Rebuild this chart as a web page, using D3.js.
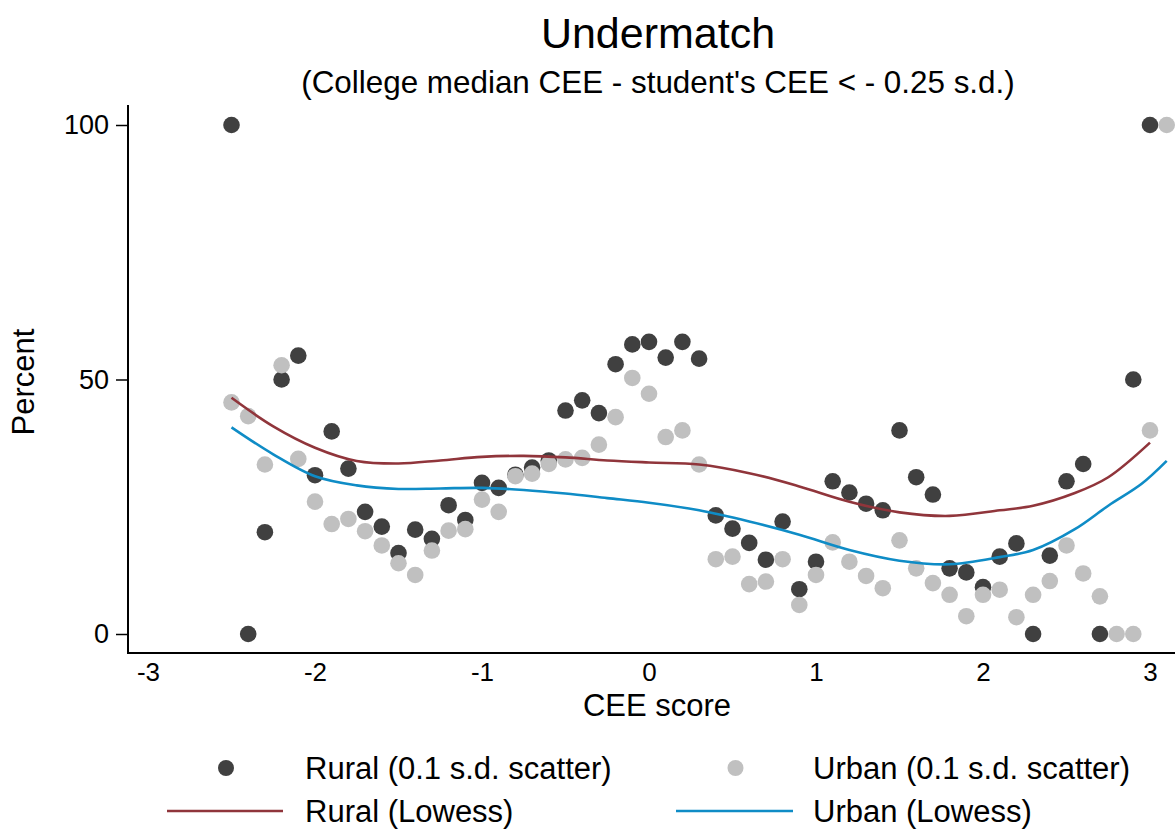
<!DOCTYPE html>
<html>
<head>
<meta charset="utf-8">
<script src="https://cdn.jsdelivr.net/npm/d3@7"></script>
<style>
  html, body { margin: 0; padding: 0; background: #fff; }
  svg { display: block; }
  text { font-family: "Liberation Sans", Arial, Helvetica, sans-serif; fill: #000; }
</style>
</head>
<body>
<svg id="chart" width="1175" height="829"></svg>
<script>
// CEE score bins (0.1 s.d. wide)
const scoreBins = [-2.5,-2.4,-2.3,-2.2,-2.1,-2.0,-1.9,-1.8,-1.7,-1.6,-1.5,-1.4,-1.3,-1.2,-1.1,-1.0,-0.9,-0.8,-0.7,-0.6,-0.5,-0.4,-0.3,-0.2,-0.1,0.0,0.1,0.2,0.3,0.4,0.5,0.6,0.7,0.8,0.9,1.0,1.1,1.2,1.3,1.4,1.5,1.6,1.7,1.8,1.9,2.0,2.1,2.2,2.3,2.4,2.5,2.6,2.7,2.8,2.9,3.0,3.1];

// Percent undermatched in each bin
const ruralPct = [100,0,20.0,50.0,54.7,31.2,39.8,32.5,24.0,21.1,15.9,20.5,18.7,25.3,22.4,29.7,28.7,31.3,32.7,34.1,43.9,45.9,43.4,53.0,56.9,57.4,54.3,57.4,54.1,23.3,20.7,17.9,14.6,22.1,8.8,14.2,30.0,27.8,25.6,24.3,40.0,30.8,27.4,12.9,12.1,9.2,15.2,17.8,0,15.4,30.0,33.4,0,null,50,100,null];
const urbanPct = [45.5,42.8,33.3,52.8,34.4,26.0,21.6,22.6,20.2,17.4,13.9,11.6,16.4,20.3,20.6,26.4,24.0,31.0,31.5,33.4,34.3,34.6,37.2,42.6,50.3,47.2,38.7,40.0,33.3,14.7,15.2,9.8,10.3,14.7,5.7,11.6,18.0,14.2,11.4,9.0,18.4,12.9,10.0,7.7,3.5,7.7,8.7,3.3,7.7,10.4,17.4,11.9,7.4,0,0,40,100];

// Lowess smooths
const ruralLowessX = [-2.5,-2.25,-2.0,-1.75,-1.5,-1.25,-1.0,-0.75,-0.5,-0.25,0,0.3,0.6,0.9,1.2,1.5,1.8,2.1,2.3,2.55,2.75,3.0];
const ruralLowessY = [46.4,40.8,36.6,34.0,33.5,34.1,34.8,35.0,34.7,34.1,33.7,33.3,31.6,29.0,26.0,23.9,23.2,24.3,25.2,27.7,30.8,37.6];
const urbanLowessX = [-2.5,-2.25,-2.0,-1.75,-1.5,-1.25,-1.0,-0.75,-0.5,-0.25,0,0.3,0.6,0.9,1.2,1.5,1.8,2.1,2.3,2.55,2.75,2.95,3.1];
const urbanLowessY = [40.6,35.3,31.0,29.2,28.5,28.6,28.7,28.3,27.6,26.7,25.8,24.3,22.1,19.5,16.5,14.4,13.7,15.1,16.5,20.6,25.2,29.5,34.0];

const xTicks = [-3,-2,-1,0,1,2,3];
const yTicks = [0,50,100];

const colors = { rural: "#404040", urban: "#c0c0c0", ruralLine: "#90353b", urbanLine: "#0f8cc6" };

const svg = d3.select("#chart");

const x = d3.scaleLinear().domain([-3, 3]).range([148, 1150]);
const y = d3.scaleLinear().domain([0, 100]).range([634, 125]);

const plotLeft = 128, plotBottom = 653, plotTop = 105, plotRight = 1175;

// Titles
svg.append("text").attr("x", 658).attr("y", 48).attr("text-anchor", "middle")
  .style("font-size", "43px").text("Undermatch");
svg.append("text").attr("x", 658).attr("y", 93).attr("text-anchor", "middle")
  .style("font-size", "31.4px").text("(College median CEE - student's CEE < - 0.25 s.d.)");

// Axes
const yAxis = d3.axisLeft(y).tickValues(yTicks).tickFormat(d => String(d))
  .tickSize(12).tickPadding(7);
const gy = svg.append("g").attr("transform", `translate(${plotLeft},0)`).call(yAxis);
gy.select(".domain").remove();
gy.selectAll(".tick line").attr("stroke", "#000").attr("stroke-width", 1.5);
gy.selectAll(".tick text").style("font-size", "27px").attr("fill", "#000");

const xAxis = d3.axisBottom(x).tickValues(xTicks).tickFormat(d => String(d))
  .tickSize(0).tickPadding(10);
const gx = svg.append("g").attr("transform", `translate(0,${plotBottom})`).call(xAxis);
gx.select(".domain").remove();
gx.selectAll(".tick text").style("font-size", "26px").attr("fill", "#000");

svg.append("line").attr("x1", plotLeft).attr("x2", plotLeft).attr("y1", plotTop).attr("y2", plotBottom + 1)
  .attr("stroke", "#000").attr("stroke-width", 2);
svg.append("line").attr("x1", plotLeft - 1).attr("x2", plotRight).attr("y1", plotBottom).attr("y2", plotBottom)
  .attr("stroke", "#000").attr("stroke-width", 2);

// Axis titles
svg.append("text").attr("x", 657).attr("y", 716).attr("text-anchor", "middle")
  .style("font-size", "31px").text("CEE score");
svg.append("text").attr("transform", "translate(34,382) rotate(-90)").attr("text-anchor", "middle")
  .style("font-size", "31px").text("Percent");

// Scatter points
const ruralPts = scoreBins.map((s, i) => ({ s, v: ruralPct[i] })).filter(d => d.v !== null);
const urbanPts = scoreBins.map((s, i) => ({ s, v: urbanPct[i] })).filter(d => d.v !== null);

svg.append("g").selectAll("circle").data(ruralPts).join("circle")
  .attr("cx", d => x(d.s)).attr("cy", d => y(d.v)).attr("r", 8.3).attr("fill", colors.rural);
svg.append("g").selectAll("circle").data(urbanPts).join("circle")
  .attr("cx", d => x(d.s)).attr("cy", d => y(d.v)).attr("r", 8.3).attr("fill", colors.urban);

// Lowess lines
const line = d3.line().x(d => x(d[0])).y(d => y(d[1])).curve(d3.curveCatmullRom.alpha(0.5));
svg.append("path").attr("d", line(ruralLowessX.map((v, i) => [v, ruralLowessY[i]])))
  .attr("fill", "none").attr("stroke", colors.ruralLine).attr("stroke-width", 2.6);
svg.append("path").attr("d", line(urbanLowessX.map((v, i) => [v, urbanLowessY[i]])))
  .attr("fill", "none").attr("stroke", colors.urbanLine).attr("stroke-width", 2.6);

// Legend
const legendItems = [
  { label: "Rural (0.1 s.d. scatter)", type: "dot", color: colors.rural, col: 0, row: 0 },
  { label: "Urban (0.1 s.d. scatter)", type: "dot", color: colors.urban, col: 1, row: 0 },
  { label: "Rural (Lowess)", type: "line", color: colors.ruralLine, col: 0, row: 1 },
  { label: "Urban (Lowess)", type: "line", color: colors.urbanLine, col: 1, row: 1 }
];
const colKeyStart = [167, 676], colKeyEnd = [283, 793], colText = [305, 813], rowY = [768, 811];
const lg = svg.append("g");
legendItems.forEach(it => {
  const cy = rowY[it.row];
  if (it.type === "dot") {
    lg.append("circle").attr("cx", (colKeyStart[it.col] + colKeyEnd[it.col]) / 2 + 1).attr("cy", cy)
      .attr("r", 8).attr("fill", it.color);
  } else {
    lg.append("line").attr("x1", colKeyStart[it.col]).attr("x2", colKeyEnd[it.col])
      .attr("y1", cy).attr("y2", cy).attr("stroke", it.color).attr("stroke-width", 2.6);
  }
  lg.append("text").attr("x", colText[it.col]).attr("y", cy + 11).style("font-size", "31px").text(it.label);
});
</script>
</body>
</html>
